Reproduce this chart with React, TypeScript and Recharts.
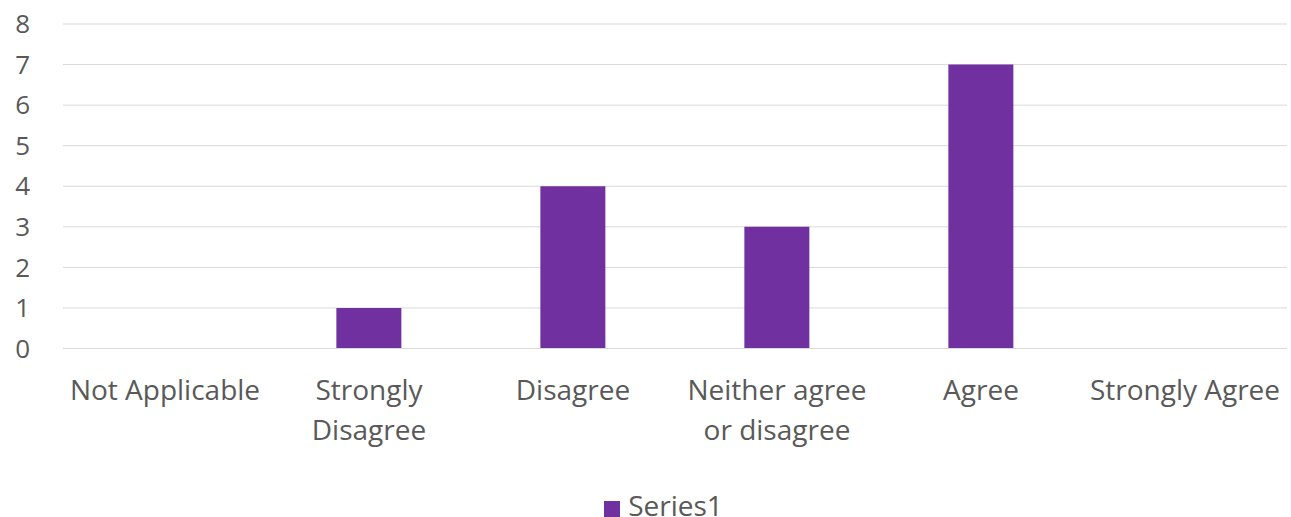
/**
 * Purpose: Survey response chart — single purple bar series across Likert categories
 * Responsibilities: Render the Recharts BarChart with Office-like styling; pure presentation
 * Dependencies: recharts
 * Export: App (default)
 */
import { BarChart, Bar, XAxis, YAxis, CartesianGrid, Legend } from 'recharts';

// tick labels keep the line breaks shown in the chart
const categories = [
  'Not Applicable',
  'Strongly\nDisagree',
  'Disagree',
  'Neither agree\nor disagree',
  'Agree',
  'Strongly Agree',
];
const series1 = [0, 1, 4, 3, 7, 0];
const yTicks = [0, 1, 2, 3, 4, 5, 6, 7, 8];

const data = categories.map((name, i) => ({ name, series1: series1[i] }));

const FONT = '"Open Sans", sans-serif';
const TEXT_COLOR = '#595959';
const GRID_COLOR = '#D9D9D9';
const BAR_COLOR = '#7030A0';
const LABEL_SIZE = 28;

function CategoryTick(props: any) {
  const { x, y, payload } = props;
  const lines = String(payload.value).split('\n');
  return (
    <text
      x={x}
      y={y + 43}
      textAnchor="middle"
      fontFamily={FONT}
      fontSize={LABEL_SIZE}
      fill={TEXT_COLOR}
    >
      {lines.map((line, i) => (
        <tspan key={i} x={x} dy={i === 0 ? 0 : 40}>
          {line}
        </tspan>
      ))}
    </text>
  );
}

export default function App() {
  return (
    <div style={{ position: 'absolute', left: 0, top: 0, background: '#fff' }}>
      <BarChart
        width={1291}
        height={517}
        data={data}
        margin={{ top: 24, right: 4, left: 0, bottom: 4 }}
        barCategoryGap="34%"
      >
        <CartesianGrid vertical={false} stroke={GRID_COLOR} />
        <XAxis
          dataKey="name"
          interval={0}
          tickLine={false}
          axisLine={{ stroke: GRID_COLOR }}
          tick={<CategoryTick />}
          height={143}
        />
        <YAxis
          domain={[0, 8]}
          ticks={yTicks}
          interval={0}
          tickLine={false}
          axisLine={false}
          tickSize={0}
          tickMargin={33}
          width={63}
          tick={{ fontSize: 26, fill: TEXT_COLOR, fontFamily: FONT }}
        />
        <Legend
          iconType="square"
          iconSize={16}
          wrapperStyle={{
            fontFamily: FONT,
            fontSize: LABEL_SIZE,
            color: TEXT_COLOR,
            lineHeight: '20px',
            top: 495,
            left: 25,
          }}
          formatter={(value) => <span style={{ color: TEXT_COLOR, paddingLeft: 4 }}>{value}</span>}
        />
        <Bar dataKey="series1" name="Series1" fill={BAR_COLOR} isAnimationActive={false} />
      </BarChart>
    </div>
  );
}
